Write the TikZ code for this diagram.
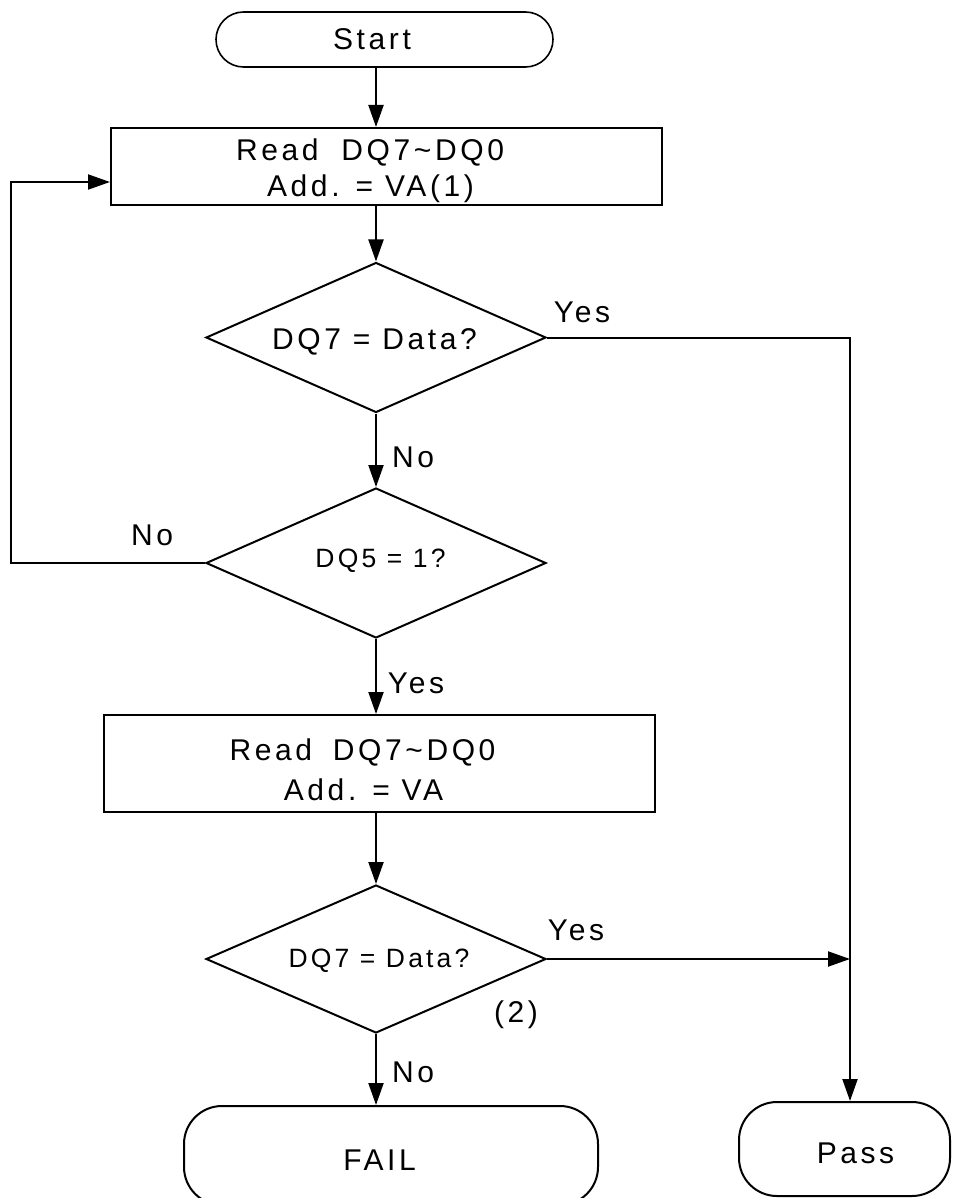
\documentclass[tikz,border=0pt]{standalone}
\usepackage{fontspec}
\setmainfont{Liberation Sans}[LetterSpace=12]
\usetikzlibrary{shapes.geometric,arrows.meta}
\begin{document}
\begin{tikzpicture}[x=1pt,y=-1pt,
  line width=2pt,
  box/.style={draw,rectangle,inner sep=0pt},
  term/.style={draw,rectangle,inner sep=0pt},
  dec/.style={draw,diamond,inner sep=0pt,minimum width=340pt},
  arr/.style={-{Triangle[length=22pt,width=15pt]}},
  txt/.style={inner sep=0pt,anchor=base,font=\fontsize{30}{36}\selectfont},
  stxt/.style={inner sep=0pt,anchor=base,font=\fontsize{26.5}{32}\selectfont}]
\useasboundingbox (0,0) rectangle (952,1198);
\clip (0,0) rectangle (952,1198);

% shapes
\node[term,rounded corners=27.5pt,line width=1.6pt,minimum width=337pt,minimum height=55pt] (start) at (384.5,39.5) {};
\node[box,minimum width=551pt,minimum height=77pt] (box1) at (386.5,166.5) {};
\node[dec,minimum height=150pt] (d1) at (376,337.5) {};
\node[dec,minimum height=150pt] (d2) at (376,563) {};
\node[box,minimum width=551pt,minimum height=97pt] (box2) at (379.5,763.5) {};
\node[dec,minimum height=148pt] (d3) at (376,959) {};
\node[term,rounded corners=38pt,minimum width=414pt,minimum height=99pt] (fail) at (391,1155.5) {};
\node[term,rounded corners=38pt,minimum width=211pt,minimum height=94pt] (pass) at (844.5,1149) {};

% texts
\node[txt] (tstart) at (372,50) {Start};
\node[txt] (t1a) at (370,161) {Read\hspace{11pt} DQ7\textasciitilde DQ0};
\node[txt] (t1b) at (370.5,197) {Add. = VA(1)};
\node[txt] (td1) at (374.5,349) {DQ7 = Data?};
\node[stxt] (td2) at (380.5,567) {DQ5 = 1?};
\node[txt] (t2a) at (362.5,760) {Read\hspace{9pt} DQ7\textasciitilde DQ0};
\node[txt] (t2b) at (363.5,800) {Add. = VA};
\node[stxt] (td3) at (379,967) {DQ7 = Data?};
\node[txt] (tfail) at (379.5,1170) {FAIL};
\node[txt] (tpass) at (855.5,1163) {Pass};

% labels
\node[txt] (yes1) at (582,322) {Yes};
\node[txt] (no1) at (413,467) {No};
\node[txt] (no2) at (152,545) {No};
\node[txt] (yes2) at (416,693) {Yes};
\node[txt] (yes3) at (576,940) {Yes};
\node[txt] (two) at (516,1022) {(2)};
\node[txt] (no3) at (413,1082) {No};

% helper coordinates
\coordinate (pj) at (850,337.5);
\coordinate (lt) at (11,182);

% connectors
\draw[arr] (start.south -| d1.north) -- (box1.north -| d1.north);
\draw[arr] (box1.south -| d1.north) -- (d1.north);
\draw[arr] (d1.south) -- (d2.north);
\draw[arr] (d2.south) -- (box2.north -| d2.south);
\draw[arr] (box2.south -| d3.north) -- (d3.north);
\draw[arr] (d3.south) -- (fail.north -| d3.south);
\draw[arr] (d1.east) -- (pj) -- (pj |- pass.north);
\draw[arr] (d3.east) -- (d3.east -| pj);
\draw[arr] (d2.west) -| (lt) -- (lt -| box1.west);
\end{tikzpicture}
\end{document}
